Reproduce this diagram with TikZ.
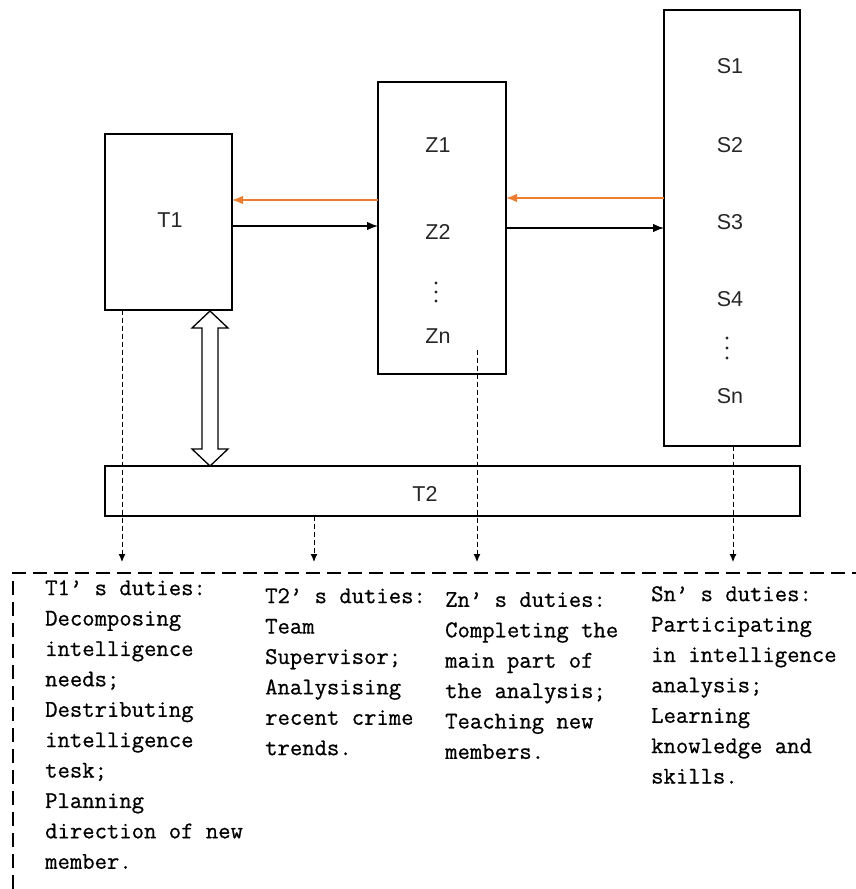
\documentclass[tikz,border=0pt]{standalone}
\usepackage{fontspec}
\setmainfont{Liberation Sans}
\newfontfamily\dutyfont[FakeBold=0.7]{Latin Modern Mono}
\usetikzlibrary{arrows.meta}
\definecolor{arrorange}{RGB}{237,125,49}
\tikzset{
  box/.style={draw, line width=1.4pt, inner sep=0pt, outer sep=0pt},
  lbl/.style={font=\fontsize{21.5}{24}\selectfont, inner sep=0pt, text=black!85},
  flow/.style={line width=1.3pt, -{Latex[length=11pt,width=8.5pt]}},
  back/.style={flow, draw=arrorange, color=arrorange},
  duty/.style={dash pattern=on 5pt off 3pt, line width=1pt, -{Latex[length=8pt,width=7pt]}},
  dotmark/.style={circle, fill=black!85, inner sep=0pt, minimum size=3.2pt},
  dutytext/.style={anchor=north west, align=left, inner sep=0pt,
    font=\dutyfont\fontsize{24}{30.4}\selectfont}
}
\begin{document}
\begin{tikzpicture}[x=1pt,y=-1pt]
\useasboundingbox (0,0) rectangle (856,889);
% boxes
\node[box, minimum width=127pt, minimum height=176pt] (T1) at (168.5,222) {};
\node[box, minimum width=128pt, minimum height=292pt] (Z) at (442,228) {};
\node[box, minimum width=136pt, minimum height=436pt] (S) at (732,228) {};
\node[box, minimum width=695pt, minimum height=50pt] (T2) at (452.5,491) {};
% labels
\node[lbl] (t1l) at (170,220) {T1};
\node[lbl] (t2l) at (425,494) {T2};
\node[lbl] (z1) at (438,145) {Z1};
\node[lbl] (z2) at (438,232) {Z2};
\node[lbl] (zn) at (438,336) {Zn};
\node[lbl] (s1) at (730,66) {S1};
\node[lbl] (s2) at (730,145) {S2};
\node[lbl] (s3) at (730,222) {S3};
\node[lbl] (s4) at (730,299) {S4};
\node[lbl] (sn) at (730,396) {Sn};
% vertical dots
\node[dotmark] (zd1) at (436,283) {};
\node[dotmark] (zd2) at (436,292) {};
\node[dotmark] (zd3) at (436,301) {};
\node[dotmark] (sd1) at (727,338) {};
\node[dotmark] (sd2) at (727,348) {};
\node[dotmark] (sd3) at (727,358) {};
% horizontal arrows
\coordinate (yo1) at (0,200);
\coordinate (yo2) at (0,198);
\coordinate (yb1) at (0,226);
\coordinate (yb2) at (0,228);
\draw[back] (Z.west |- yo1) -- (T1.east |- yo1);
\draw[back] (S.west |- yo2) -- (Z.east |- yo2);
\draw[flow] (T1.east |- yb1) -- (Z.west |- yb1);
\draw[flow] (Z.east |- yb2) -- (S.west |- yb2);
% double arrow between T1 and T2
\draw[line width=1.3pt, fill=white, line join=miter]
  (210,311) -- (228,328) -- (218,328) -- (218,449) -- (228,449) -- (210,466)
  -- (192,449) -- (202,449) -- (202,328) -- (192,328) -- cycle;
% duties frame
\draw[line width=1.2pt, dash pattern=on 14pt off 7pt] (13,889) -- (13,573) -- (856,573);
\coordinate (dT1) at (122,562);
\coordinate (dT2) at (314,562);
\coordinate (dZ) at (477,562);
\coordinate (dS) at (733,562);
\draw[duty] (T1.south -| dT1) -- (dT1);
\draw[duty] (T2.south -| dT2) -- (dT2);
\draw[duty] (477,350) -- (dZ);
\draw[duty] (S.south -| dS) -- (dS);
% duty texts
\node[dutytext] (tx1) at (45,580) {T1’ s duties:\\Decomposing\\intelligence\\needs;\\Destributing\\intelligence\\tesk;\\Planning\\direction of new\\member.};
\node[dutytext] (tx2) at (265,588) {T2’ s duties:\\Team\\Supervisor;\\Analysising\\recent crime\\trends.};
\node[dutytext] (tx3) at (445,592) {Zn’ s duties:\\Completing the\\main part of\\the analysis;\\Teaching new\\members.};
\node[dutytext] (tx4) at (651,586) {Sn’ s duties:\\Participating\\in intelligence\\analysis;\\Learning\\knowledge and\\skills.};
\end{tikzpicture}
\end{document}
